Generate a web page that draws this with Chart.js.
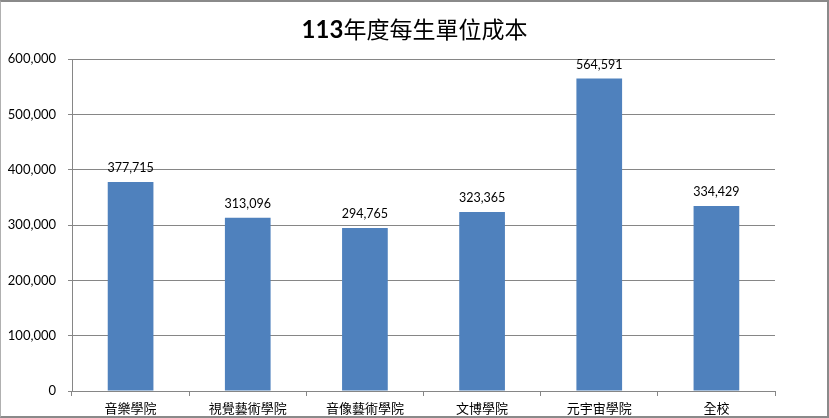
<!DOCTYPE html>
<html><head><meta charset="utf-8">
<script src="https://cdn.jsdelivr.net/npm/chart.js@4"></script>
<style>
html,body{margin:0;padding:0;background:#fff;}
#wrap{position:relative;width:829px;height:418px;overflow:hidden;}
#c{position:absolute;left:0;top:0;}
#frame{position:absolute;left:0;top:0;width:829px;height:418px;box-sizing:border-box;border-top:2px solid #8a8a8a;border-left:1px solid #b0b0b0;border-right:2px solid #8a8a8a;border-bottom:2px solid #8a8a8a;pointer-events:none;}
#title{position:absolute;left:0;top:14px;width:829px;text-align:center;font-family:"Noto Sans CJK TC","Noto Sans",sans-serif;font-size:23px;line-height:28px;color:#000;}
#title b{font-family:Lato,"Open Sans",sans-serif;font-weight:700;font-size:24px;}
</style>
</head><body>
<div id="wrap">
<canvas id="c" width="829" height="418"></canvas>
<div id="title"><b>113</b>年度每生單位成本</div>
<div id="frame"></div>
</div>
<script>
const categories = ["音樂學院","視覺藝術學院","音像藝術學院","文博學院","元宇宙學院","全校"];
const costPerStudent = [377715, 313096, 294765, 323365, 564591, 334429];
const yTicks = [0, 100000, 200000, 300000, 400000, 500000, 600000];

const fmt = v => v.toLocaleString('en-US');

const dataLabels = {
  id: 'dataLabels',
  afterDatasetsDraw(chart) {
    const ctx = chart.ctx;
    const meta = chart.getDatasetMeta(0);
    ctx.save();
    ctx.font = '12.5px Lato, "Open Sans", sans-serif';
    ctx.fillStyle = '#000';
    ctx.textAlign = 'center';
    ctx.textBaseline = 'middle';
    meta.data.forEach((bar, i) => {
      ctx.fillText(fmt(chart.data.datasets[0].data[i]), bar.x, bar.y - 14);
    });
    ctx.restore();
  }
};

new Chart(document.getElementById('c'), {
  type: 'bar',
  data: {
    labels: categories,
    datasets: [{
      data: costPerStudent,
      backgroundColor: '#4F81BD',
      borderWidth: 0,
      categoryPercentage: 1,
      barPercentage: 0.39
    }]
  },
  options: {
    responsive: false,
    animation: false,
    devicePixelRatio: 1,
    layout: { padding: { top: 59, left: 0, right: 54, bottom: 0 } },
    plugins: { legend: { display: false }, title: { display: false }, tooltip: { enabled: false } },
    scales: {
      y: {
        min: yTicks[0],
        max: yTicks[yTicks.length - 1],
        afterBuildTicks(scale) { scale.ticks = yTicks.map(v => ({ value: v })); },
        ticks: {
          callback: v => fmt(v),
          font: { family: 'Lato, "Open Sans", sans-serif', size: 13 },
          color: '#000',
          padding: 12
        },
        grid: { color: '#868686', lineWidth: 1, tickLength: 4 },
        border: { color: '#868686', width: 1 },
        afterFit(scale) { scale.width = 72; }
      },
      x: {
        grid: { offset: true, drawOnChartArea: false, color: '#868686', tickLength: 5 },
        border: { color: '#868686', width: 1 },
        ticks: {
          font: { family: '"Noto Sans CJK TC", sans-serif', size: 13 },
          color: '#000',
          padding: 4,
          maxRotation: 0
        },
        afterFit(scale) { scale.height = 27; }
      }
    }
  },
  plugins: [dataLabels]
});
</script>
</body></html>
